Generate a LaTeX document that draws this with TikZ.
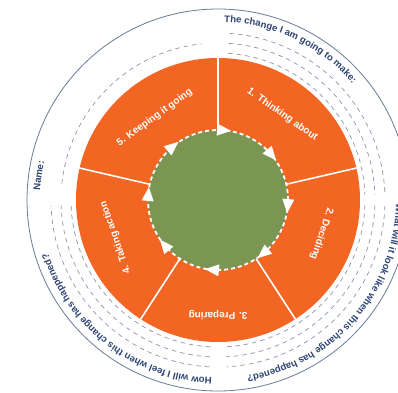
\documentclass[tikz,border=0pt]{standalone}
\usepackage{fontspec}
\setmainfont{Liberation Sans}
\usetikzlibrary{decorations.text}
\definecolor{wheelorange}{HTML}{F26522}
\definecolor{wheelgreen}{HTML}{7A9652}
\definecolor{inkblue}{HTML}{2E4472}
\definecolor{lineblue}{HTML}{8796AE}
\definecolor{rimblue}{HTML}{6A7A98}
\tikzset{
	writeline/.style={lineblue, line width=0.7pt, dash pattern=on 4.5pt off 4pt},
	stagelabel/.style={text=white, font=\bfseries\fontsize{10}{12}\selectfont, inner sep=0pt},
	prompt/.style={decorate, decoration={text along path, text align=left, text color=inkblue,
		text={|\bfseries\fontsize{9.6}{11}\selectfont|#1}}}
}
\begin{document}
\begin{tikzpicture}[thick]
			\clip (-218pt,-192pt) rectangle (180pt,200pt);
			\fill[white] (-218pt,-192pt) rectangle (180pt,200pt);
			\coordinate (O) at (0,0);
			\draw[rimblue, line width=0.8pt] (O) circle (191pt);
			% writing lines
			\foreach\r in {147,157,167}{
				\draw[writeline] (86:\r pt) arc[start angle=86, end angle=2, radius=\r pt];
				\draw[writeline] (-2:\r pt) arc[start angle=-2, end angle=-87, radius=\r pt];
				\draw[writeline] (-93:\r pt) arc[start angle=-93, end angle=-178, radius=\r pt];}
			\draw[writeline] (174:157pt) arc[start angle=174, end angle=96, radius=157pt];
			% prompts round the rim
			\path[prompt={The change I am going to make:}] (88:178pt) arc[start angle=88, end angle=10, radius=178pt];
			\path[prompt={What will it look like when this change has happened?}] (-1:178pt) arc[start angle=-1, end angle=-100, radius=178pt];
			\path[prompt={How will I feel when this change has happened?}] (-92:178pt) arc[start angle=-92, end angle=-190, radius=178pt];
			\path[prompt={Name:}] (177:178pt) arc[start angle=177, end angle=150, radius=178pt];
			% the wheel
			\fill[wheelorange] (O) circle (142pt);
			\foreach\a in {90,13,-57,-123,167}\draw[white, line width=1.6pt] (\a:68pt)--(\a:143pt);
			\fill[wheelgreen] (O) circle (70pt);
			\draw[white, line width=1.8pt, dash pattern=on 4pt off 3pt] (O) circle (70pt);
			\foreach\a in {85,40,-5,-50,-95,-140,175,130}
				\fill[white, shift={(\a:70pt)}, rotate=\a-90] (7pt,0)--(-7pt,6pt)--(-7pt,-6pt)--cycle;
			\node[stagelabel, rotate=-35] (think) at (53:107pt) {1. Thinking about};
			\node[stagelabel, rotate=-108] (decide) at (-18:109pt) {2. Deciding};
			\node[stagelabel, rotate=180] (prepare) at (-90:115pt) {3. Preparing};
			\node[stagelabel, rotate=109] (act) at (-160:109pt) {4. Taking action};
			\node[stagelabel, rotate=36] (keep) at (127.5:104pt) {5. Keeping it going};
		\end{tikzpicture}
\end{document}
